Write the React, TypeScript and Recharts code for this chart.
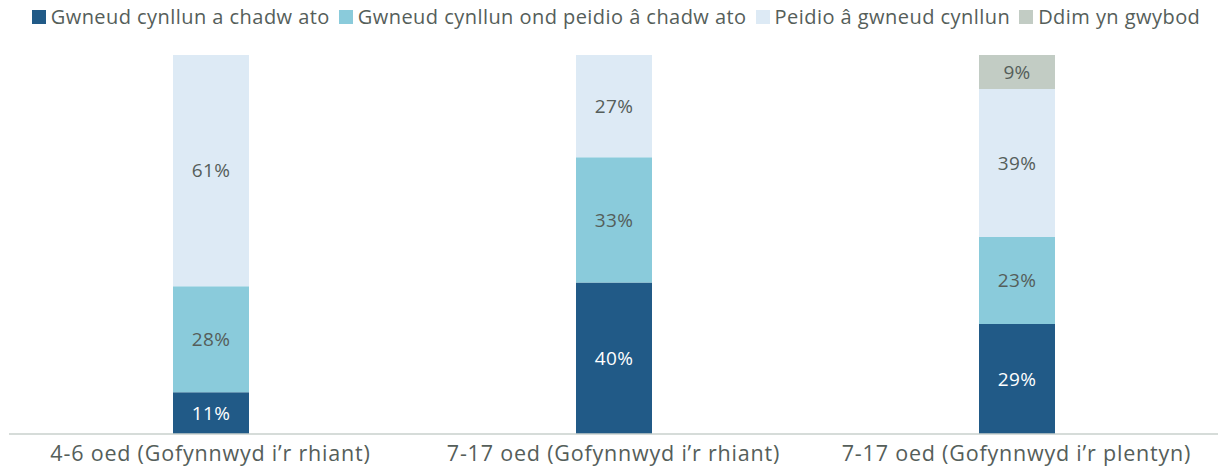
import { BarChart, Bar, XAxis, YAxis, Legend, LabelList } from 'recharts'

const categories = [
  '4-6 oed (Gofynnwyd i’r rhiant)',
  '7-17 oed (Gofynnwyd i’r rhiant)',
  '7-17 oed (Gofynnwyd i’r plentyn)',
]
const planKept = [11, 40, 29]
const planNotKept = [28, 33, 23]
const noPlan = [61, 27, 39]
const dontKnow = [null, null, 9]

const seriesNames = [
  'Gwneud cynllun a chadw ato',
  'Gwneud cynllun ond peidio â chadw ato',
  'Peidio â gwneud cynllun',
  'Ddim yn gwybod',
]
const colors = ['#215a87', '#8acbdb', '#ddeaf5', '#c2ccc4']
const labelColors = ['#ffffff', '#555e5a', '#555e5a', '#555e5a']

const data = categories.map((name, i) => ({
  name,
  s0: planKept[i],
  s1: planNotKept[i],
  s2: noPlan[i],
  s3: dontKnow[i],
}))

const font = '"Open Sans", sans-serif'

function LegendContent() {
  return (
    <div
      style={{
        display: 'flex',
        justifyContent: 'center',
        gap: 9,
        fontFamily: font,
        fontSize: 20,
        letterSpacing: 0.45,
        color: '#555e5a',
        whiteSpace: 'nowrap',
        height: 26,
        lineHeight: '26px',
      }}
    >
      {seriesNames.map((n, i) => (
        <div key={n} style={{ display: 'flex', alignItems: 'center', gap: 5 }}>
          <span style={{ width: 14, height: 14, background: colors[i], display: 'inline-block' }} />
          <span>{n}</span>
        </div>
      ))}
    </div>
  )
}

export default function App() {
  return (
    <div style={{ position: 'absolute', left: 0, top: 0, background: '#fff' }}>
      <BarChart
        width={1220}
        height={471}
        data={data}
        margin={{ top: 29, right: 2, bottom: 0, left: 9 }}
      >
        <Legend
          verticalAlign="top"
          content={<LegendContent />}
          wrapperStyle={{ top: 4, left: 6, width: 1220 }}
        />
        <XAxis
          dataKey="name"
          height={37}
          tickLine={false}
          axisLine={{ stroke: '#c8d0cc', strokeWidth: 1.5 }}
          tick={{ fontFamily: font, fontSize: 21.5, letterSpacing: 0.8, fill: '#555e5a' }}
          tickMargin={6}
          interval={0}
        />
        <YAxis hide domain={[0, 100]} />
        {['s0', 's1', 's2', 's3'].map((k, i) => (
          <Bar
            key={k}
            dataKey={k}
            stackId="a"
            fill={colors[i]}
            barSize={76}
            isAnimationActive={false}
          >
            <LabelList
              dataKey={k}
              position="center"
              formatter={(v: number) => (v == null ? '' : `${v}%`)}
              style={{ fontFamily: font, fontSize: 19, letterSpacing: 0.3, fill: labelColors[i] }}
            />
          </Bar>
        ))}
      </BarChart>
    </div>
  )
}
